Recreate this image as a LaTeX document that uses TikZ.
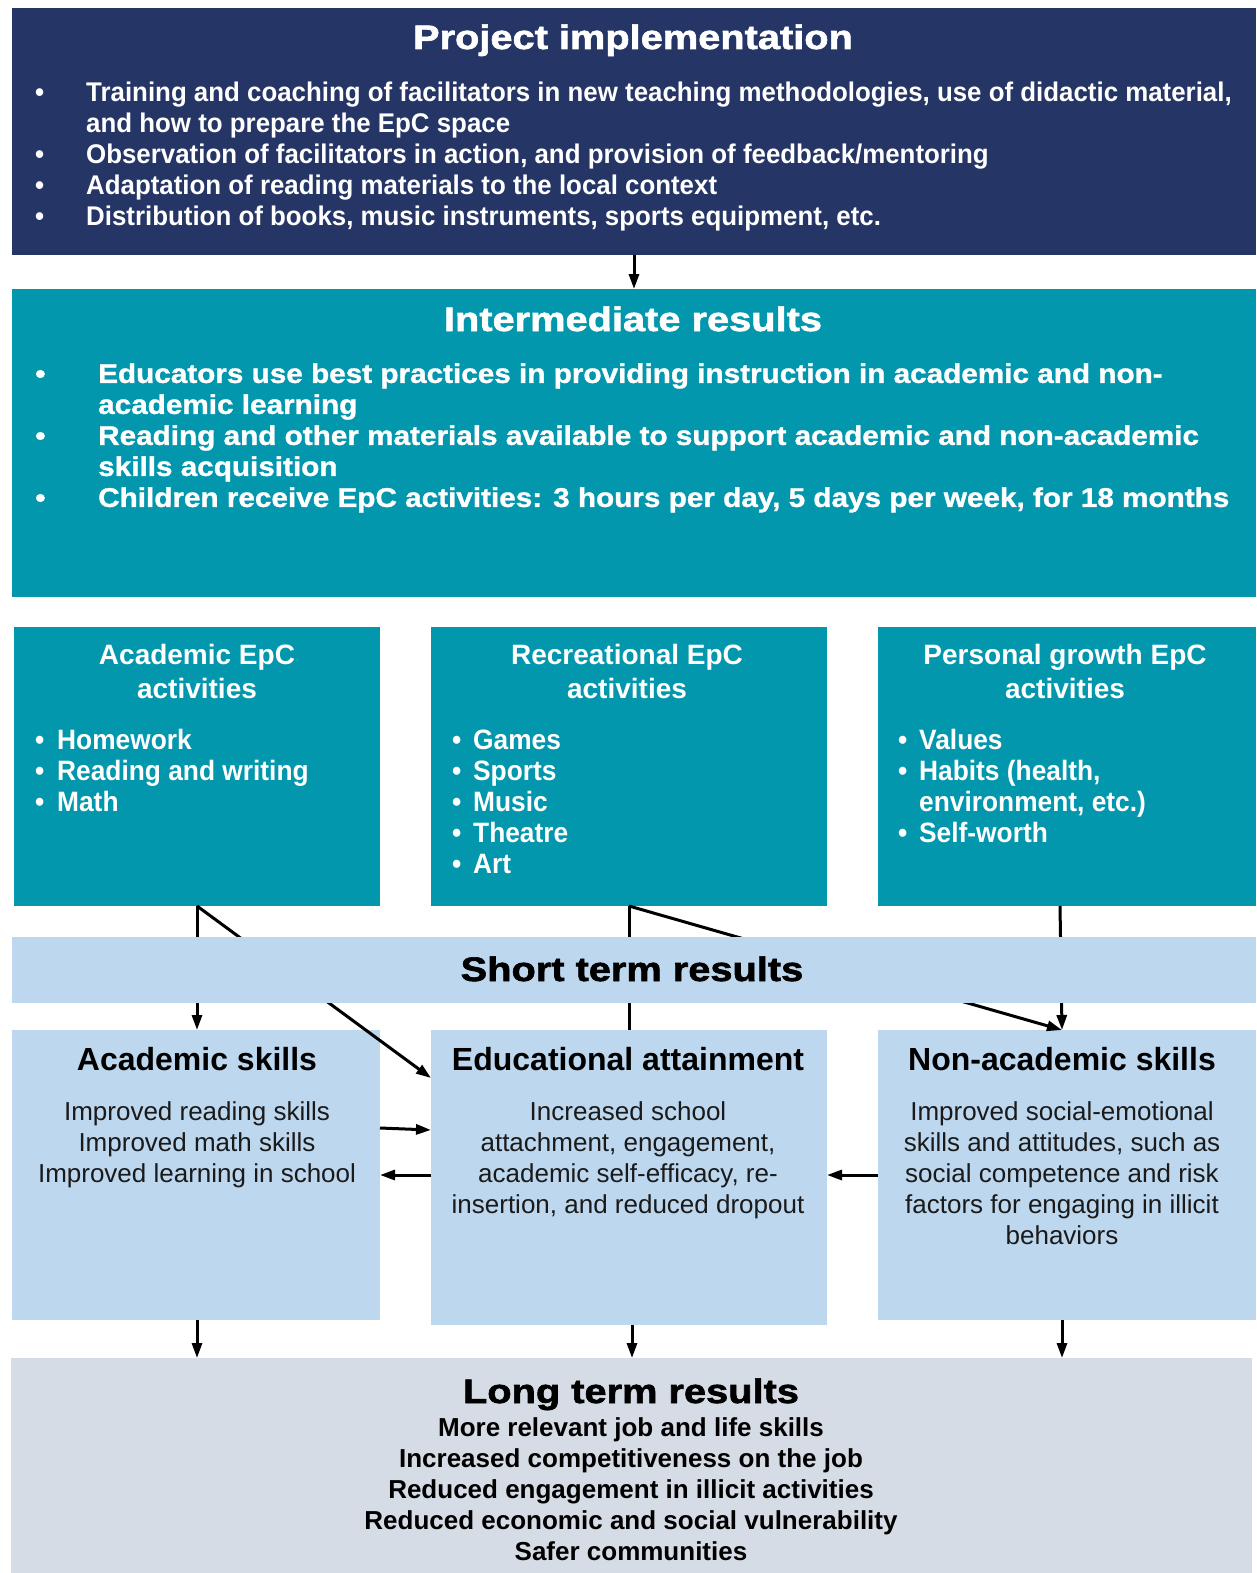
\documentclass[tikz,border=0pt]{standalone}
\usepackage{fontspec}
\setmainfont{Liberation Sans}
\usetikzlibrary{arrows.meta,calc}
\definecolor{pnavy}{HTML}{253566}
\definecolor{pteal}{HTML}{0397AE}
\definecolor{plight}{HTML}{BDD7EE}
\definecolor{pgray}{HTML}{D6DCE5}
\definecolor{ptext}{HTML}{1A1A1A}
\begin{document}
\begin{tikzpicture}[x=1pt,y=-1pt,
  box/.style={draw=none, inner sep=0pt, outer sep=0pt, anchor=north west, rectangle},
  arr/.style={line width=3pt, -{Triangle[length=15pt,width=10pt]}},
  plain/.style={line width=3pt},
  heavytitle/.style={inner sep=0pt, anchor=base, font=\fontsize{34}{40}\selectfont\bfseries\addfontfeature{FakeBold=1.8,FakeStretch=1.17}},
  txt/.style={inner sep=0pt},
]
\useasboundingbox (0,0) rectangle (1256,1573);
\fill[white] (0,0) rectangle (1256,1573);

% boxes
\node[box, fill=pnavy, minimum width=1244pt, minimum height=247pt] (proj) at (12,8) {};
\node[box, fill=pteal, minimum width=1244pt, minimum height=308pt] (inter) at (12,289) {};
\node[box, fill=pteal, minimum width=366pt, minimum height=279pt] (acadact) at (14,627) {};
\node[box, fill=pteal, minimum width=396pt, minimum height=279pt] (recact) at (431,627) {};
\node[box, fill=pteal, minimum width=378pt, minimum height=279pt] (persact) at (878,627) {};
\node[box, fill=plight, minimum width=368pt, minimum height=290pt] (acadsk) at (12,1030) {};
\node[box, fill=plight, minimum width=396pt, minimum height=295pt] (edu) at (431,1030) {};
\node[box, fill=plight, minimum width=378pt, minimum height=290pt] (nonac) at (878,1030) {};
\node[box, fill=pgray, minimum width=1241pt, minimum height=215pt] (long) at (11,1358) {};

% connectors (drawn before the short-term band, which covers them)
\draw[arr] (proj.south) -- (inter.north);
\draw[arr] (acadact.south) -- (acadact.south |- acadsk.north);
\draw[arr] (acadact.south) -- ($(edu.north west)+(0,48)$);
\draw[plain] (recact.south) -- (recact.south |- edu.north);
\draw[arr] (recact.south) -- ($(nonac.north)+(-5,0)$);
\draw[arr] ($(persact.south)+(-7,0)$) -- ($(nonac.north)+(-5,0)$);
\draw[arr] ($(acadsk.north east)+(0,98)$) -- ($(edu.north west)+(0,100)$);
\draw[arr] ($(edu.north west)+(0,145)$) -- ($(acadsk.north east)+(0,145)$);
\draw[arr] ($(nonac.north west)+(0,145)$) -- ($(edu.north east)+(0,145)$);
\draw[arr] ($(acadsk.south)+(1,0)$) -- ($(acadsk.south |- long.north)+(1,0)$);
\draw[arr] ($(edu.south)+(3,0)$) -- ($(edu.south |- long.north)+(3,0)$);
\draw[arr] ($(nonac.south)+(-5,0)$) -- ($(nonac.south |- long.north)+(-5,0)$);

\node[box, fill=plight, minimum width=1244pt, minimum height=66pt] (short) at (12,937) {};

% texts
\node[heavytitle, text=white] (projt) at (633,49) {Project implementation};
\node[txt, anchor=north west, text=white,
  font=\fontsize{27}{31}\selectfont\bfseries\addfontfeature{FakeStretch=0.958}] (projb) at (35,80)
  {\begin{tabular}{@{}p{51pt}@{}l@{}}
   \textbullet & Training and coaching of facilitators in new teaching methodologies, use of didactic material,\\
   & and how to prepare the EpC space\\
   \textbullet & Observation of facilitators in action, and provision of feedback/mentoring\\
   \textbullet & Adaptation of reading materials to the local context\\
   \textbullet & Distribution of books, music instruments, sports equipment, etc.
   \end{tabular}};

\node[heavytitle, text=white] (intert) at (633,331) {Intermediate results};
\node[txt, anchor=north west, text=white,
  font=\fontsize{27}{31}\selectfont\bfseries\addfontfeature{FakeBold=1.2,FakeStretch=1.1}] (interb) at (35,361)
  {\begin{tabular}{@{}p{63pt}@{}l@{}}
   \textbullet & Educators use best practices in providing instruction in academic and non-\\
   & academic learning\\
   \textbullet & Reading and other materials available to support academic and non-academic\\
   & skills acquisition\\
   \textbullet & Children receive EpC activities: 3 hours per day, 5 days per week, for 18 months
   \end{tabular}};

\node[txt, text=white, align=center, anchor=north, font=\fontsize{28}{34}\selectfont\bfseries] (acadactt) at (197,644)
  {Academic EpC\\activities};
\node[txt, text=white, align=center, anchor=north, font=\fontsize{28}{34}\selectfont\bfseries] (recactt) at (627,644)
  {Recreational EpC\\activities};
\node[txt, text=white, align=center, anchor=north, font=\fontsize{28}{34}\selectfont\bfseries] (persactt) at (1065,644)
  {Personal growth EpC\\activities};

\node[txt, anchor=north west, text=white, font=\fontsize{28}{31}\selectfont\bfseries\addfontfeature{FakeStretch=0.94}] (acadactb) at (35,728)
  {\begin{tabular}{@{}p{22pt}@{}l@{}}
   \textbullet & Homework\\ \textbullet & Reading and writing\\ \textbullet & Math
   \end{tabular}};
\node[txt, anchor=north west, text=white, font=\fontsize{28}{31}\selectfont\bfseries\addfontfeature{FakeStretch=0.94}] (recactb) at (452,728)
  {\begin{tabular}{@{}p{21pt}@{}l@{}}
   \textbullet & Games\\ \textbullet & Sports\\ \textbullet & Music\\ \textbullet & Theatre\\ \textbullet & Art
   \end{tabular}};
\node[txt, anchor=north west, text=white, font=\fontsize{28}{31}\selectfont\bfseries\addfontfeature{FakeStretch=0.94}] (persactb) at (898,728)
  {\begin{tabular}{@{}p{21pt}@{}l@{}}
   \textbullet & Values\\ \textbullet & Habits (health,\\ & environment, etc.)\\ \textbullet & Self-worth
   \end{tabular}};

\node[heavytitle, text=black] (shortt) at (632,981) {Short term results};

\node[txt, text=black, font=\fontsize{32}{36}\selectfont\bfseries] (acadskt) at (197,1059) {Academic skills};
\node[txt, text=black, font=\fontsize{32}{36}\selectfont\bfseries] (edut) at (628,1059) {Educational attainment};
\node[txt, text=black, font=\fontsize{32}{36}\selectfont\bfseries] (nonact) at (1062,1059) {Non-academic skills};

\node[txt, text=ptext, align=center, anchor=north, font=\fontsize{26}{31}\selectfont] (acadskb) at (197,1101)
  {Improved reading skills\\Improved math skills\\Improved learning in school};
\node[txt, text=ptext, align=center, anchor=north, font=\fontsize{26}{31}\selectfont] (edub) at (628,1101)
  {Increased school\\attachment, engagement,\\academic self-efficacy, re-\\insertion, and reduced dropout};
\node[txt, text=ptext, align=center, anchor=north, font=\fontsize{26}{31}\selectfont] (nonacb) at (1062,1101)
  {Improved social-emotional\\skills and attitudes, such as\\social competence and risk\\factors for engaging in illicit\\behaviors};

\node[heavytitle, text=black] (longt) at (631,1403) {Long term results};
\node[txt, text=black, align=center, anchor=north, font=\fontsize{26}{31}\selectfont\bfseries] (longb) at (631,1417)
  {More relevant job and life skills\\Increased competitiveness on the job\\Reduced engagement in illicit activities\\Reduced economic and social vulnerability\\Safer communities};
\end{tikzpicture}
\end{document}
